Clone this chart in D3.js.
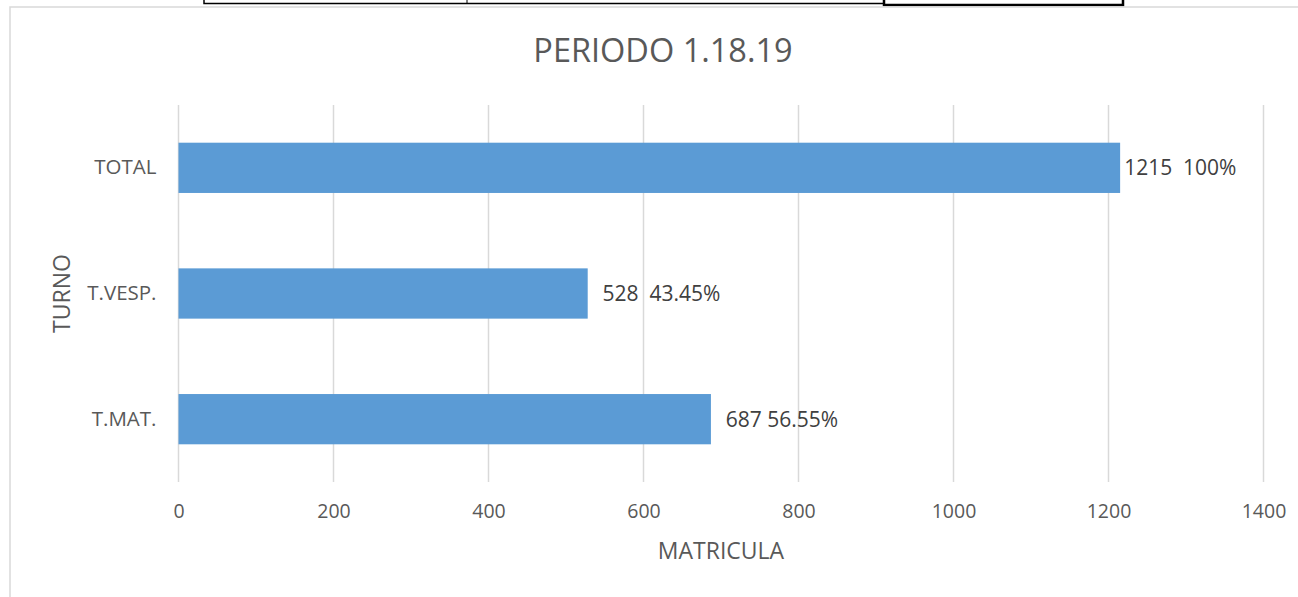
<!DOCTYPE html>
<html>
<head>
<meta charset="utf-8">
<script src="https://cdn.jsdelivr.net/npm/d3@7"></script>
<style>
  body { margin: 0; background: #fff; }
  text { font-family: "Open Sans", "Noto Sans", sans-serif; }
</style>
</head>
<body>
<div id="mybarplot"></div>
<script>
// data
const turnos = ["T.MAT.", "T.VESP.", "TOTAL"];
const matricula = [687, 528, 1215];
const etiquetas = ["  687 56.55%", "  528  43.45%", "1215  100%"];
const xTicks = [0, 200, 400, 600, 800, 1000, 1200, 1400];

const W = 1298, H = 597;
const margin = {top: 105, right: 35, bottom: 115, left: 178.5};
const w = 1263.5 - margin.left;
const h = 482 - margin.top;

const svg = d3.select("#mybarplot")
              .append("svg")
              .attr("width", W)
              .attr("height", H);

// table borders cut off at the top
svg.append("path")
   .attr("d", "M204,0 V3.5 H884")
   .attr("fill", "none").attr("stroke", "#000").attr("stroke-width", 1.5);
svg.append("line").attr("x1", 467).attr("x2", 467).attr("y1", 0).attr("y2", 3.5)
   .attr("stroke", "#000").attr("stroke-width", 1);
svg.append("path")
   .attr("d", "M884,0 V5 H1123 V0")
   .attr("fill", "none").attr("stroke", "#000").attr("stroke-width", 2.5);

// chart area border
svg.append("path")
   .attr("d", "M10,597 V7 H1298")
   .attr("fill", "none").attr("stroke", "#d9d9d9").attr("stroke-width", 1.5);

// title
svg.append("text")
   .attr("x", 663).attr("y", 62)
   .attr("text-anchor", "middle")
   .attr("fill", "#595959")
   .style("font-size", "32.5px")
   .text("PERIODO 1.18.19");

const g = svg.append("g")
             .attr("transform", `translate(${margin.left},${margin.top})`);

const x = d3.scaleLinear().domain([0, 1400]).range([0, w]);
const y = d3.scaleBand().domain(turnos.slice().reverse()).range([0, h]).paddingInner(0.6).paddingOuter(0.3);

// gridlines
g.selectAll(".grid")
 .data(xTicks)
 .enter()
 .append("line")
  .attr("x1", d => x(d)).attr("x2", d => x(d))
  .attr("y1", 0).attr("y2", h)
  .attr("stroke", "#d9d9d9").attr("stroke-width", 1.5);

// x axis labels
const xAxis = g.append("g")
   .attr("transform", `translate(0,${h})`)
   .call(d3.axisBottom(x).tickValues(xTicks).tickFormat(d3.format("d")).tickSize(0).tickPadding(22));
xAxis.select(".domain").remove();
xAxis.selectAll("text")
     .attr("fill", "#595959")
     .style("font-size", "19.5px")
     .style("font-family", "'Open Sans', sans-serif");

// y axis labels
const yAxis = g.append("g")
   .call(d3.axisLeft(y).tickSize(0).tickPadding(22));
yAxis.select(".domain").remove();
yAxis.selectAll("text")
     .attr("fill", "#595959")
     .style("font-size", "20.5px")
     .style("font-family", "'Open Sans', sans-serif");

// bars
const data = turnos.map((t, i) => ({turno: t, valor: matricula[i], etiqueta: etiquetas[i]}));
g.selectAll(".bar")
 .data(data)
 .enter()
 .append("rect")
  .attr("x", x(0))
  .attr("y", d => y(d.turno))
  .attr("width", d => x(d.valor) - x(0))
  .attr("height", y.bandwidth())
  .attr("fill", "#5b9bd5");

// data labels
g.selectAll(".lbl")
 .data(data)
 .enter()
 .append("text")
  .attr("x", d => x(d.valor) + 4)
  .attr("y", d => y(d.turno) + y.bandwidth() / 2)
  .attr("dy", "0.35em")
  .attr("fill", "#404040")
  .style("font-size", "21px")
  .style("white-space", "pre")
  .text(d => d.etiqueta);

// axis titles
svg.append("text")
   .attr("x", margin.left + w / 2).attr("y", 559)
   .attr("text-anchor", "middle")
   .attr("fill", "#595959")
   .style("font-size", "23px")
   .text("MATRICULA");

svg.append("text")
   .attr("transform", `translate(70,${margin.top + h / 2}) rotate(-90)`)
   .attr("text-anchor", "middle")
   .attr("fill", "#595959")
   .style("font-size", "23px")
   .text("TURNO");
</script>
</body>
</html>
